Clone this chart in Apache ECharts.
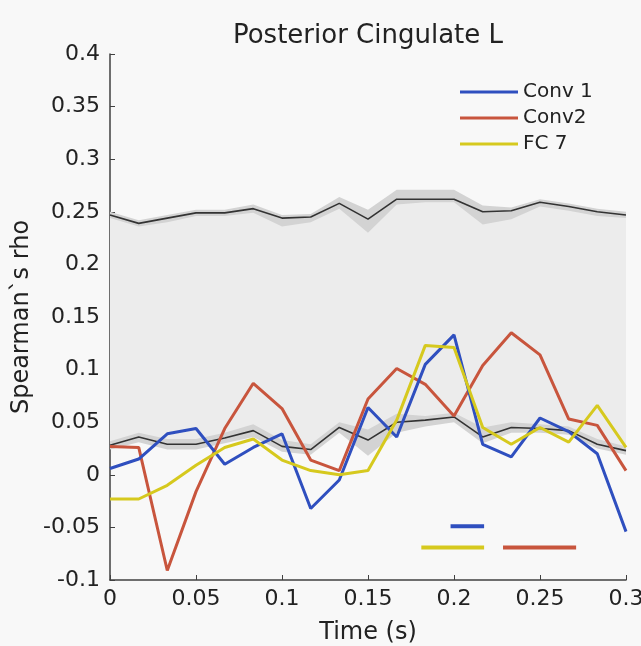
<!DOCTYPE html>
<html>
<head>
    <meta charset="utf-8">
    <title>Posterior Cingulate L</title>
    <script src="https://cdn.jsdelivr.net/npm/echarts@6/dist/echarts.min.js"></script>
    <style>body { margin: 0; background: #f8f8f8; }</style>
</head>
<body>
    <div id="main" style="width: 641px;height:646px;"></div>
    <script type="text/javascript">
        var times = [0, 0.0167, 0.0333, 0.05, 0.0667, 0.0833, 0.1, 0.1167, 0.1333, 0.15,
            0.1667, 0.1833, 0.2, 0.2167, 0.2333, 0.25, 0.2667, 0.2833, 0.3];

        var conv1 = [0.006, 0.015, 0.039, 0.044, 0.010, 0.026, 0.039, -0.032, -0.005, 0.064,
            0.036, 0.105, 0.133, 0.029, 0.017, 0.054, 0.041, 0.020, -0.054];
        var conv2 = [0.027, 0.026, -0.091, -0.016, 0.044, 0.087, 0.063, 0.014, 0.004, 0.072,
            0.101, 0.086, 0.056, 0.104, 0.135, 0.114, 0.053, 0.047, 0.004];
        var fc7 = [-0.023, -0.023, -0.010, 0.009, 0.026, 0.034, 0.014, 0.004, 0.000, 0.004,
            0.052, 0.123, 0.121, 0.045, 0.029, 0.045, 0.031, 0.066, 0.026];

        // noise ceiling: upper / lower bound lines and their shaded error
        var upper = [0.247, 0.239, 0.244, 0.249, 0.249, 0.253, 0.244, 0.245, 0.258, 0.243,
            0.262, 0.262, 0.262, 0.250, 0.251, 0.259, 0.255, 0.250, 0.247];
        var upperHi = [0.250, 0.242, 0.247, 0.252, 0.252, 0.257, 0.247, 0.248, 0.264, 0.252,
            0.271, 0.271, 0.271, 0.256, 0.254, 0.262, 0.258, 0.253, 0.250];
        var upperLo = [0.244, 0.236, 0.240, 0.246, 0.246, 0.249, 0.236, 0.240, 0.253, 0.230,
            0.257, 0.259, 0.259, 0.238, 0.243, 0.255, 0.251, 0.246, 0.244];
        var lower = [0.028, 0.036, 0.029, 0.029, 0.035, 0.042, 0.027, 0.024, 0.045, 0.033,
            0.050, 0.052, 0.055, 0.036, 0.045, 0.044, 0.042, 0.029, 0.023];
        var lowerHi = [0.032, 0.040, 0.034, 0.034, 0.040, 0.048, 0.033, 0.029, 0.050, 0.043,
            0.058, 0.056, 0.059, 0.045, 0.050, 0.048, 0.046, 0.034, 0.027];
        var lowerLo = [0.024, 0.031, 0.024, 0.024, 0.030, 0.036, 0.022, 0.019, 0.040, 0.018,
            0.040, 0.046, 0.050, 0.030, 0.040, 0.040, 0.038, 0.025, 0.019];

        // significance bars [start, end, level]
        var sigConv1 = [0.198, 0.2175, -0.049];
        var sigConv2 = [0.2285, 0.271, -0.069];
        var sigFc7 = [0.181, 0.2175, -0.069];

        var yTicks = ['0.4', '0.35', '0.3', '0.25', '0.2', '0.15', '0.1', '0.05', '0', '-0.05', '-0.1'];

        var blue = '#2f4fbf';
        var red = '#c8553d';
        var yellow = '#d6c91e';

        function bandSeries(lo, hi, color, z) {
            return {
                type: 'custom',
                silent: true,
                z: z,
                data: [0],
                renderItem: function (params, api) {
                    var pts = [];
                    for (var i = 0; i < times.length; i++) pts.push(api.coord([times[i], hi[i]]));
                    for (var j = times.length - 1; j >= 0; j--) pts.push(api.coord([times[j], lo[j]]));
                    return { type: 'polygon', shape: { points: pts }, style: { fill: color } };
                }
            };
        }

        function pairs(vals) {
            return times.map(function (t, i) { return [t, vals[i]]; });
        }

        function sigSeries(bar, color) {
            return {
                type: 'line', silent: true, symbol: 'none', z: 6,
                lineStyle: { color: color, width: 4 },
                data: [[bar[0], bar[2]], [bar[1], bar[2]]]
            };
        }

        var myChart = echarts.init(document.getElementById('main'));

        var option = {
            backgroundColor: '#f8f8f8',
            animation: false,
            textStyle: { fontFamily: 'DejaVu Sans' },
            title: {
                text: 'Posterior Cingulate L',
                left: 363, top: 18, textAlign: 'center',
                textStyle: { fontSize: 26, fontWeight: 'normal', color: '#222' }
            },
            legend: {
                data: ['Conv 1', 'Conv2', 'FC 7'],
                orient: 'vertical',
                left: 460, top: 82, padding: 0,
                icon: 'rect', itemWidth: 58, itemHeight: 3, itemGap: 6,
                textStyle: { fontSize: 20, color: '#222', lineHeight: 20 }
            },
            grid: { left: 110, right: 15, top: 54, bottom: 66, outerBoundsMode: 'none' },
            xAxis: {
                type: 'value', min: 0, max: 0.3, interval: 0.05,
                name: 'Time (s)', nameLocation: 'middle', nameGap: 41, nameMoveOverlap: false,
                nameTextStyle: { fontSize: 24, color: '#222' },
                axisLine: { show: true, onZero: false, lineStyle: { color: '#404040', width: 1.5 } },
                axisTick: { show: true, inside: true, length: 5, lineStyle: { color: '#404040' } },
                axisLabel: { fontSize: 22, color: '#222', margin: 8,
                    formatter: function (v) { return String(+v.toFixed(2)); } },
                splitLine: { show: false }
            },
            yAxis: {
                type: 'value', min: -0.1, max: 0.4, interval: 0.05,
                name: 'Spearman`s rho', nameLocation: 'middle', nameGap: 76, nameRotate: 90,
                nameMoveOverlap: false,
                nameTextStyle: { fontSize: 24, color: '#222' },
                axisLine: { show: true, onZero: false, lineStyle: { color: '#404040', width: 1.5 } },
                axisTick: { show: true, inside: true, length: 5, lineStyle: { color: '#404040' } },
                axisLabel: { fontSize: 22, color: '#222', margin: 10,
                    formatter: function (v) {
                        var s = String(+v.toFixed(2));
                        return yTicks.indexOf(s) >= 0 ? s : '';
                    } },
                splitLine: { show: false }
            },
            series: [
                bandSeries(lower, upper, '#ececec', 1),
                bandSeries(upperLo, upperHi, '#d3d3d3', 2),
                bandSeries(lowerLo, lowerHi, '#d3d3d3', 2),
                { type: 'line', silent: true, symbol: 'none', z: 3, data: pairs(upper),
                    lineStyle: { color: '#333', width: 1.6 } },
                { type: 'line', silent: true, symbol: 'none', z: 3, data: pairs(lower),
                    lineStyle: { color: '#333', width: 1.6 } },
                { name: 'Conv2', type: 'line', symbol: 'none', z: 4, data: pairs(conv2),
                    color: red, lineStyle: { color: red, width: 3 } },
                { name: 'Conv 1', type: 'line', symbol: 'none', z: 5, data: pairs(conv1),
                    color: blue, lineStyle: { color: blue, width: 3 } },
                { name: 'FC 7', type: 'line', symbol: 'none', z: 5, data: pairs(fc7),
                    color: yellow, lineStyle: { color: yellow, width: 3 } },
                sigSeries(sigConv1, blue),
                sigSeries(sigFc7, yellow),
                sigSeries(sigConv2, red)
            ]
        };

        myChart.setOption(option);
    </script>
</body>
</html>
